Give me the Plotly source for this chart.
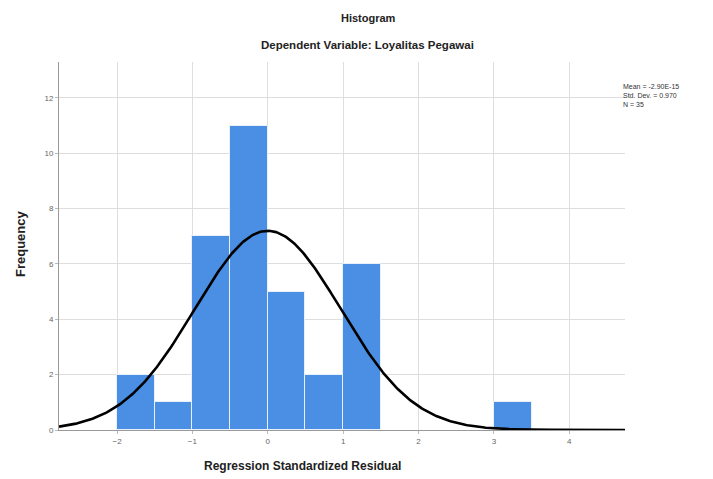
import numpy as np
import plotly.graph_objects as go

bin_left = [-2.0, -1.5, -1.0, -0.5, 0.0, 0.5, 1.0, 3.0]
bin_width = 0.5
freq = [2, 1, 7, 11, 5, 2, 6, 1]
mean = -2.90e-15
sd = 0.970
n = 35
x_ticks = [-2, -1, 0, 1, 2, 3, 4]
y_ticks = [0, 2, 4, 6, 8, 10, 12]

centers = [b + bin_width / 2 for b in bin_left]
xc = np.linspace(-2.77, 4.74, 400)
yc = n * bin_width / (sd * np.sqrt(2 * np.pi)) * np.exp(-0.5 * ((xc - mean) / sd) ** 2)

# page has an 8px body margin; figure sized/placed so plot area lands at page px
OFF = 8
W, H = 713 - OFF, 479 - OFF
ML, MT = 59 - OFF, 62 - OFF
MB = H - (430 - OFF)
MR = W - (625 - OFF)
PW, PH = W - ML - MR, H - MT - MB


def px(xp):
    return (xp - OFF - ML) / PW


def py(yp):
    return (H - (yp - OFF) - MB) / PH


fig = go.Figure()
fig.add_trace(go.Bar(x=centers, y=freq, width=[bin_width] * len(freq),
                     marker=dict(color="#4a8fe3", line=dict(color="#e8f0fb", width=1)),
                     hoverinfo="skip"))
fig.add_trace(go.Scatter(x=xc, y=yc, mode="lines", line=dict(color="black", width=2.6),
                         hoverinfo="skip"))

font = "Liberation Sans, Arial, sans-serif"
common = dict(xref="paper", yref="paper", showarrow=False, xanchor="center", yanchor="middle")
fig.update_layout(
    width=W, height=H,
    margin=dict(l=ML, r=MR, t=MT, b=MB),
    paper_bgcolor="white", plot_bgcolor="white",
    showlegend=False, bargap=0,
    font=dict(family=font, size=8, color="#666666"),
    xaxis=dict(range=[-2.77, 4.74], tickvals=x_ticks, showgrid=True, gridcolor="#dedede",
               gridwidth=1, zeroline=False, showline=True, linecolor="#9a9a9a",
               ticks="outside", ticklen=3, tickcolor="#bbbbbb",
               tickfont=dict(size=8, color="#666666")),
    yaxis=dict(range=[0, 13.3], tickvals=y_ticks, showgrid=True, gridcolor="#dedede",
               gridwidth=1, zeroline=False, showline=True, linecolor="#9a9a9a",
               ticks="outside", ticklen=3, tickcolor="#bbbbbb",
               tickfont=dict(size=8, color="#666666")),
    annotations=[
        dict(text="<b>Histogram</b>", x=px(368), y=py(18),
             font=dict(size=11, color="#222222", family=font), **common),
        dict(text="<b>Dependent Variable: Loyalitas Pegawai</b>", x=px(367), y=py(45),
             font=dict(size=11.5, color="#222222", family=font), **common),
        dict(text="<b>Frequency</b>", x=px(20), y=py(244), textangle=-90,
             font=dict(size=13, color="#222222", family=font), **common),
        dict(text="<b>Regression Standardized Residual</b>", x=px(302), y=py(466),
             font=dict(size=12, color="#222222", family=font), **common),
        dict(text="Mean = -2.90E-15<br>Std. Dev. = 0.970<br>N = 35", x=px(621), y=py(96),
             xref="paper", yref="paper", showarrow=False, xanchor="left", yanchor="middle",
             align="left", font=dict(size=7, color="#333333", family=font)),
    ],
)

fig.write_html("out.html")
